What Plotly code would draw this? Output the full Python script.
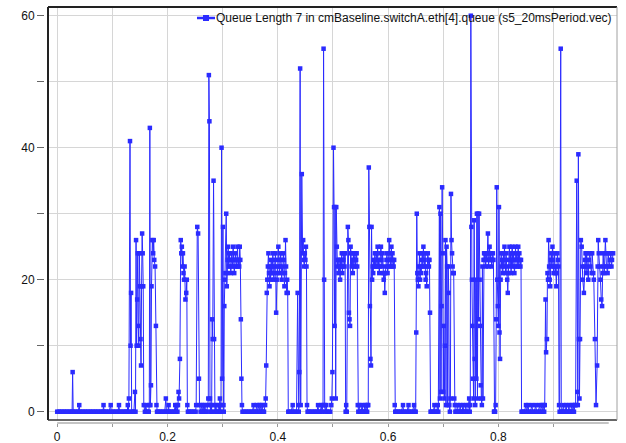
import plotly.graph_objects as go

# Queue length samples: simulation time [s] and queue length [packets]
time_s = [
    0.000, 0.003, 0.006, 0.009, 0.012, 0.015, 0.018, 0.021, 0.024, 0.027, 0.028, 0.029,
    0.032, 0.035, 0.038, 0.040, 0.041, 0.044, 0.047, 0.050, 0.053, 0.056, 0.059, 0.062,
    0.065, 0.068, 0.071, 0.074, 0.077, 0.080, 0.083, 0.084, 0.085, 0.088, 0.091, 0.094,
    0.097, 0.098, 0.101, 0.104, 0.107, 0.110, 0.112, 0.113, 0.116, 0.119, 0.122, 0.125,
    0.127, 0.128, 0.129,
    0.130, 0.132, 0.133, 0.134, 0.135, 0.137, 0.139, 0.141, 0.142, 0.143, 0.144, 0.145,
    0.146, 0.147, 0.148, 0.149, 0.150, 0.151, 0.152, 0.153, 0.154, 0.155, 0.156, 0.157,
    0.159, 0.161, 0.162, 0.164, 0.166, 0.167, 0.168, 0.169, 0.170, 0.171, 0.1725, 0.174,
    0.175, 0.176, 0.1775, 0.179, 0.180, 0.181,
    0.183, 0.186, 0.189, 0.192, 0.195, 0.197, 0.198, 0.201, 0.202, 0.203, 0.206, 0.209,
    0.212, 0.214, 0.215, 0.217, 0.218, 0.219, 0.220,
    0.221, 0.2225, 0.224, 0.225, 0.226, 0.227, 0.228, 0.229, 0.230, 0.231, 0.2325, 0.234,
    0.235, 0.236, 0.237,
    0.239, 0.242, 0.245, 0.248, 0.251, 0.252,
    0.254, 0.2555, 0.257, 0.258, 0.260, 0.262, 0.263, 0.265, 0.266, 0.268, 0.269, 0.271,
    0.273, 0.274, 0.275, 0.276, 0.277, 0.278, 0.279, 0.280, 0.281, 0.282, 0.2835, 0.2845,
    0.285, 0.286, 0.288, 0.289, 0.291, 0.293, 0.294, 0.295, 0.296, 0.297, 0.298, 0.299,
    0.3005, 0.3015, 0.302, 0.303, 0.304, 0.305, 0.3065, 0.3075, 0.308, 0.309, 0.310, 0.311,
    0.312, 0.313, 0.314, 0.315, 0.316, 0.317, 0.318, 0.319, 0.320, 0.321, 0.322, 0.323,
    0.324, 0.325, 0.326, 0.327, 0.328, 0.329, 0.330, 0.331, 0.332, 0.333, 0.334, 0.335,
    0.336,
    0.339, 0.342, 0.345, 0.348, 0.351, 0.354, 0.356, 0.357, 0.360, 0.362, 0.363, 0.366,
    0.367, 0.369, 0.370, 0.372, 0.373, 0.375, 0.377,
    0.378, 0.379, 0.380, 0.381, 0.382, 0.383, 0.384, 0.385, 0.386, 0.387, 0.388, 0.389,
    0.390, 0.391, 0.392, 0.393, 0.394, 0.395, 0.396, 0.397, 0.398, 0.399, 0.400, 0.401,
    0.402, 0.403, 0.404, 0.405, 0.406, 0.407, 0.408, 0.409, 0.410, 0.411, 0.412, 0.413,
    0.414, 0.415, 0.416, 0.417, 0.418, 0.419,
    0.421, 0.424, 0.427, 0.428, 0.431, 0.434,
    0.436, 0.437, 0.438, 0.439, 0.4405, 0.4415, 0.4435, 0.445, 0.446, 0.447, 0.448, 0.449,
    0.450, 0.451, 0.452, 0.453, 0.454,
    0.456, 0.459, 0.462, 0.465, 0.468, 0.471, 0.473, 0.474, 0.477, 0.479, 0.480, 0.482,
    0.483, 0.484, 0.485, 0.486, 0.488, 0.489, 0.492, 0.495, 0.497, 0.498, 0.499, 0.501,
    0.502, 0.503, 0.504, 0.505, 0.506, 0.507, 0.508, 0.509, 0.510, 0.511, 0.512, 0.513,
    0.514, 0.515, 0.516, 0.517, 0.518, 0.519, 0.520, 0.521, 0.522, 0.523, 0.524, 0.525,
    0.527, 0.528, 0.529, 0.530, 0.531, 0.532, 0.533, 0.534, 0.535, 0.536, 0.537, 0.538,
    0.539, 0.540, 0.541, 0.542, 0.543, 0.544, 0.545, 0.546,
    0.548, 0.549, 0.551, 0.553, 0.554, 0.556, 0.558, 0.559, 0.561, 0.562, 0.563, 0.564,
    0.565, 0.566, 0.567, 0.568, 0.569, 0.570,
    0.571, 0.572, 0.573, 0.574, 0.575, 0.576, 0.577, 0.578, 0.579, 0.580,
    0.581, 0.582, 0.583, 0.584, 0.585, 0.586, 0.587, 0.588, 0.589, 0.590,
    0.591, 0.592, 0.593, 0.594, 0.595, 0.596, 0.597, 0.598, 0.599, 0.600,
    0.601, 0.602, 0.603, 0.604, 0.605, 0.606, 0.607, 0.608, 0.609, 0.610,
    0.611, 0.612, 0.613,
    0.615, 0.618, 0.621, 0.624, 0.627, 0.628, 0.631, 0.634, 0.637, 0.638, 0.641, 0.644,
    0.647, 0.648, 0.650,
    0.651, 0.652, 0.653, 0.654, 0.655, 0.656, 0.657, 0.658, 0.659, 0.660, 0.661, 0.662,
    0.663, 0.664, 0.665, 0.666, 0.667, 0.668, 0.669, 0.670, 0.671, 0.672, 0.673, 0.674,
    0.675, 0.676, 0.677,
    0.679, 0.682, 0.684, 0.685, 0.688, 0.690, 0.691,
    0.693, 0.694, 0.695, 0.696, 0.697, 0.698, 0.699, 0.700, 0.701, 0.702, 0.703, 0.704,
    0.705, 0.706, 0.707, 0.708, 0.709, 0.710, 0.711, 0.712, 0.713, 0.714, 0.715, 0.716,
    0.717, 0.718, 0.719, 0.720, 0.721, 0.722,
    0.724, 0.726, 0.727, 0.729, 0.731, 0.732, 0.734, 0.736, 0.737, 0.739, 0.741, 0.742,
    0.744, 0.746, 0.747, 0.748,
    0.749, 0.750, 0.751, 0.752, 0.753, 0.754, 0.755, 0.756, 0.757, 0.758, 0.759, 0.760,
    0.761, 0.762, 0.763, 0.764, 0.765, 0.766, 0.767, 0.768, 0.769, 0.770, 0.771, 0.772,
    0.773, 0.774, 0.775, 0.776, 0.777, 0.778, 0.779, 0.780, 0.781, 0.782, 0.783, 0.784,
    0.785, 0.786, 0.787, 0.788, 0.789, 0.790, 0.791, 0.792,
    0.793, 0.794, 0.795, 0.796, 0.797, 0.798, 0.799, 0.800, 0.801, 0.802, 0.803, 0.804,
    0.805, 0.806, 0.807, 0.808, 0.809, 0.810, 0.811, 0.812, 0.813, 0.814, 0.815, 0.816,
    0.817, 0.818, 0.819, 0.820, 0.821, 0.822, 0.823, 0.824, 0.825, 0.826, 0.827, 0.828,
    0.829, 0.830, 0.831, 0.832, 0.833, 0.834, 0.835, 0.836, 0.837, 0.838, 0.839, 0.840,
    0.841, 0.842,
    0.844, 0.847, 0.850, 0.851, 0.854, 0.855, 0.858, 0.861, 0.862, 0.865, 0.868, 0.869,
    0.872, 0.875, 0.876, 0.879, 0.880, 0.882, 0.883, 0.884,
    0.8855, 0.8865, 0.888, 0.889, 0.890, 0.891, 0.892, 0.893, 0.894, 0.895, 0.896, 0.897,
    0.898, 0.899, 0.900, 0.901, 0.902, 0.903, 0.904, 0.905, 0.906, 0.907, 0.908, 0.909,
    0.910, 0.911, 0.913, 0.914,
    0.916, 0.918, 0.919, 0.921, 0.923, 0.924, 0.926, 0.928, 0.929, 0.931, 0.933, 0.934,
    0.936, 0.937, 0.939, 0.940,
    0.942, 0.943, 0.944, 0.945, 0.946, 0.947, 0.948, 0.9495, 0.951, 0.952, 0.953, 0.955,
    0.956, 0.957, 0.958, 0.959, 0.960, 0.961, 0.963, 0.964, 0.966, 0.967, 0.969, 0.970,
    0.972, 0.973, 0.975, 0.977, 0.979, 0.980, 0.981, 0.982, 0.984, 0.985, 0.9865, 0.988,
    0.989, 0.990, 0.991, 0.992, 0.994, 0.995, 0.996, 0.998, 0.999, 1.001, 1.002, 1.004,
    1.005, 1.006, 1.008,
]

queue_len = [
    0, 0, 0, 0, 0, 0, 0, 0, 0, 0, 6, 0,
    0, 0, 0, 1, 0, 0, 0, 0, 0, 0, 0, 0,
    0, 0, 0, 0, 0, 0, 0, 1, 0, 0, 0, 0,
    1, 0, 0, 0, 0, 0, 1, 0, 0, 0, 0, 0,
    0, 1, 0,
    2, 41, 10, 18, 0, 0, 0, 3, 0, 26, 10, 17,
    24, 13, 10, 24, 19, 11, 7, 19, 27, 24, 19, 1,
    0, 1, 0, 0, 0, 1, 43, 1, 4, 19, 26, 24,
    26, 23, 22, 13, 1, 0,
    0, 0, 0, 0, 0, 2, 0, 0, 1, 0, 0, 0,
    0, 1, 0, 1, 0, 1, 3,
    2, 8, 26, 24, 25, 22, 24, 21, 20, 22, 17, 18,
    20, 1, 0,
    0, 0, 0, 0, 0, 1,
    28, 27, 5, 1, 0, 1, 0, 1, 0, 1, 0, 0,
    1, 2, 51, 44, 2, 0, 1, 0, 14, 11, 35, 11,
    1, 0, 1, 0, 0, 1, 0, 2, 0, 1, 40, 5,
    28, 1, 0, 16, 20, 21, 30, 19, 21, 23, 25, 22,
    24, 23, 22, 21, 24, 23, 22, 25, 23, 21, 22, 24,
    23, 22, 23, 25, 22, 23, 22, 25, 23, 14, 5, 1,
    0,
    0, 0, 0, 0, 0, 0, 1, 0, 0, 1, 0, 1,
    0, 1, 0, 1, 0, 0, 1,
    2, 7, 18, 20, 22, 24, 21, 19, 22, 20, 23, 21,
    22, 24, 21, 20, 22, 23, 24, 15, 20, 21, 22, 25,
    23, 21, 22, 24, 23, 20, 22, 21, 24, 23, 19, 21,
    26, 22, 18, 20, 18, 0,
    0, 0, 1, 0, 0, 0,
    18, 1, 0, 6, 52, 1, 36, 24, 26, 23, 22, 24,
    23, 25, 22, 1, 0,
    0, 0, 0, 0, 0, 0, 1, 0, 0, 1, 0, 1,
    55, 20, 1, 0, 1, 0, 0, 0, 1, 2, 6, 40,
    31, 13, 31, 2, 31, 25, 22, 23, 21, 23, 22, 20,
    23, 22, 24, 21, 22, 23, 24, 22, 24, 0, 1, 0,
    28, 26, 15, 14, 13, 25, 24, 22, 23, 21, 24, 22,
    23, 24, 22, 23, 24, 22, 1, 0,
    1, 0, 0, 1, 0, 0, 1, 0, 1, 0, 1, 1,
    37, 28, 16, 8, 7, 28,
    20, 22, 21, 23, 22, 24, 22, 23, 24, 22,
    25, 22, 23, 21, 22, 24, 25, 23, 22, 24,
    21, 20, 21, 18, 21, 22, 23, 24, 21, 22,
    23, 26, 24, 22, 23, 25, 22, 24, 23, 22,
    23, 1, 0,
    0, 0, 0, 0, 1, 0, 0, 0, 1, 0, 0, 0,
    1, 0, 0,
    12, 30, 21, 20, 19, 22, 24, 20, 22, 21, 23, 24,
    22, 25, 23, 22, 24, 20, 21, 19, 22, 24, 23, 22,
    23, 15, 0,
    0, 0, 1, 0, 0, 1, 0,
    31, 2, 30, 3, 16, 34, 24, 3, 13, 2, 10, 26,
    1, 25, 22, 1, 22, 18, 1, 0, 2, 33, 26, 24,
    22, 21, 21, 2, 1, 0,
    0, 1, 0, 0, 1, 0, 0, 1, 0, 0, 1, 0,
    0, 1, 2, 0,
    1, 60, 28, 20, 13, 5, 2, 29, 8, 1, 20, 5,
    30, 2, 30, 14, 30, 20, 13, 4, 2, 1, 22, 2,
    23, 24, 23, 24, 22, 24, 23, 24, 27, 22, 23, 25,
    23, 24, 23, 22, 23, 24, 23, 0,
    0, 0, 1, 14, 34, 20, 16, 13, 31, 12, 8, 20,
    24, 22, 23, 21, 24, 22, 25, 23, 21, 24, 22, 20,
    18, 21, 23, 25, 22, 24, 21, 23, 25, 22, 24, 23,
    21, 22, 25, 23, 24, 22, 23, 25, 22, 24, 23, 22,
    23, 0,
    0, 0, 1, 0, 1, 0, 0, 1, 0, 0, 1, 0,
    0, 1, 0, 1, 0, 1, 0, 1,
    17, 9, 11, 21, 20, 26, 22, 20, 19, 23, 24, 22,
    25, 23, 21, 22, 24, 21, 22, 19, 21, 24, 23, 22,
    1, 0, 55, 0,
    0, 1, 0, 0, 1, 0, 0, 1, 0, 0, 1, 0,
    1, 0, 1, 1,
    35, 3, 1, 39, 11, 2, 11, 26, 25, 22, 20, 18,
    22, 23, 24, 21, 24, 22, 20, 23, 24, 22, 21, 24,
    21, 20, 11, 1, 7, 22, 26, 24, 22, 20, 17, 16,
    21, 24, 22, 21, 26, 24, 22, 21, 24, 22, 23, 24,
    22, 23, 24,
]

assert len(time_s) == len(queue_len)

series_name = "Queue Length 7 in cmBaseline.switchA.eth[4].queue (s5_20msPeriod.vec)"

x_tick_vals = [0.0, 0.1, 0.2, 0.3, 0.4, 0.5, 0.6, 0.7, 0.8, 0.9]
x_tick_text = ["0", "", "0.2", "", "0.4", "", "0.6", "", "0.8", ""]
y_tick_vals = [0, 10, 20, 30, 40, 50, 60]
y_tick_text = ["0", "", "20", "", "40", "", "60"]

W, H = 626, 443
ML, MR, MT, MB = 44, 9, 7, 15
PW, PH = W - ML - MR, H - MT - MB


def px_x(px):
    return (px - ML) / PW


def px_y(py):
    return (H - MB - py) / PH


BLUE = "#2b2bff"
FONT = "Liberation Sans, Arial, sans-serif"
AXIS_Y_PX = 423

fig = go.Figure()
fig.add_trace(go.Scatter(
    x=time_s, y=queue_len, mode="lines+markers", name=series_name,
    line=dict(color=BLUE, width=1),
    marker=dict(color=BLUE, size=4.5, symbol="square", line=dict(width=0)),
    showlegend=False,
))

frame_l, frame_r, frame_t, frame_b = px_x(48), 1.0, 1.0, px_y(420)

shapes = [
    # plot frame
    dict(type="line", xref="paper", yref="paper", x0=frame_l, x1=frame_l, y0=frame_b, y1=frame_t,
         line=dict(color="#222222", width=2)),
    dict(type="line", xref="paper", yref="paper", x0=frame_l, x1=frame_r, y0=frame_t, y1=frame_t,
         line=dict(color="#222222", width=2)),
    dict(type="line", xref="paper", yref="paper", x0=frame_l, x1=frame_r, y0=frame_b, y1=frame_b,
         line=dict(color="#333333", width=1.5)),
    dict(type="line", xref="paper", yref="paper", x0=frame_r, x1=frame_r, y0=frame_b, y1=frame_t,
         line=dict(color="#a0a0a0", width=1)),
    # x axis baseline below the frame
    dict(type="line", xref="x", yref="paper", x0=0, x1=1.0, y0=px_y(AXIS_Y_PX), y1=px_y(AXIS_Y_PX),
         line=dict(color="#b0b0b0", width=1.5)),
    # legend key
    dict(type="line", xref="paper", yref="paper", x0=px_x(197), x1=px_x(215), y0=px_y(18), y1=px_y(18),
         line=dict(color=BLUE, width=2.5)),
    dict(type="rect", xref="paper", yref="paper", x0=px_x(203), x1=px_x(209), y0=px_y(21), y1=px_y(15),
         line=dict(width=0), fillcolor=BLUE),
]

fig.update_layout(
    width=W, height=H,
    margin=dict(l=ML, r=MR, t=MT, b=MB, pad=0, autoexpand=False),
    paper_bgcolor="white", plot_bgcolor="white",
    font=dict(family=FONT, size=12, color="#111111"),
    shapes=shapes,
    annotations=[dict(
        text=series_name, xref="paper", yref="paper", x=px_x(614), y=px_y(18),
        xanchor="right", yanchor="middle", showarrow=False,
        font=dict(family=FONT, size=12, color="#111111"),
    )],
    xaxis=dict(
        domain=[frame_l, 1.0], range=[(48 - 57.2) / 551.5, (617 - 57.2) / 551.5],
        anchor="free", position=px_y(AXIS_Y_PX), automargin=False,
        tickmode="array", tickvals=x_tick_vals, ticktext=x_tick_text,
        ticks="outside", ticklen=3, tickcolor="#999999", tickwidth=1,
        showline=False, zeroline=False,
        showgrid=True, gridcolor="#d6d6d6", gridwidth=1,
    ),
    yaxis=dict(
        domain=[frame_b, 1.0], range=[(411.7 - 420) / 6.6, (411.7 - 7) / 6.6],
        anchor="free", position=0, automargin=False,
        tickmode="array", tickvals=y_tick_vals, ticktext=y_tick_text,
        ticks="outside", ticklen=7, tickcolor="#666666", tickwidth=1,
        showline=False, zeroline=False,
        showgrid=True, gridcolor="#d6d6d6", gridwidth=1,
    ),
)

fig.write_html("out.html")
